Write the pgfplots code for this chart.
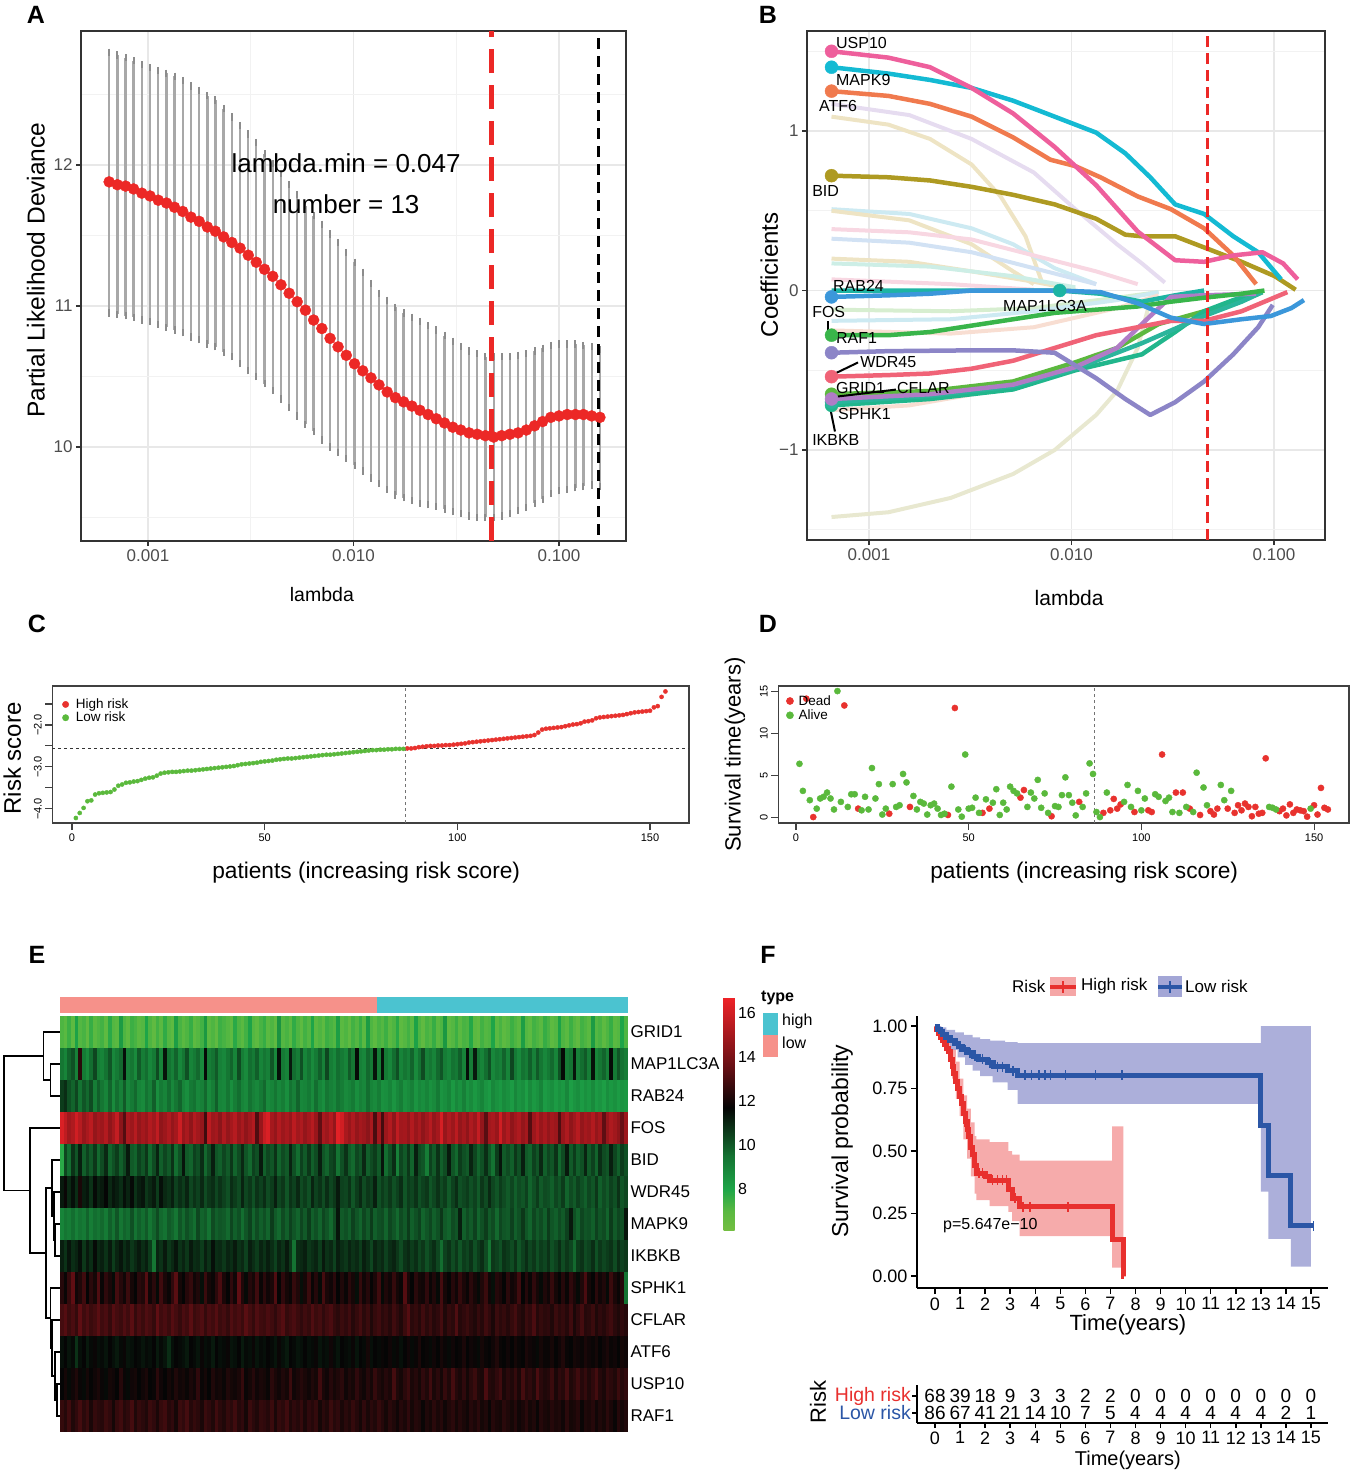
\documentclass[border=0pt]{standalone}
\usepackage{fontspec}
\setmainfont{Liberation Sans}
\usepackage{pgfplots}
\usepackage{pgfplotstable}
\pgfplotsset{compat=1.18}

\definecolor{gridmaj}{RGB}{232,232,232}
\definecolor{gridmin}{RGB}{242,242,242}
\definecolor{frame}{RGB}{51,51,51}
\definecolor{ticktxt}{RGB}{77,77,77}
\definecolor{cvred}{RGB}{236,40,38}
\definecolor{errgray}{RGB}{168,168,168}
\definecolor{capgray}{RGB}{140,140,140}
\definecolor{cUSP}{RGB}{238,95,156}
\definecolor{cMAPK}{RGB}{20,186,211}
\definecolor{cATF}{RGB}{240,122,78}
\definecolor{cBID}{RGB}{174,154,34}
\definecolor{cRAB}{RGB}{59,151,218}
\definecolor{cMAP1}{RGB}{29,180,163}
\definecolor{cGRN}{RGB}{57,181,74}
\definecolor{cWDR}{RGB}{240,99,119}
\definecolor{cPUR}{RGB}{140,133,199}
\definecolor{cGRN2}{RGB}{92,184,63}
\definecolor{cTEAL2}{RGB}{33,182,140}
\definecolor{cVIO}{RGB}{176,124,198}
\definecolor{cTEAL3}{RGB}{43,181,156}
\definecolor{fBeige}{RGB}{238,228,196}
\definecolor{fLav}{RGB}{230,220,240}
\definecolor{fCyan}{RGB}{205,234,242}
\definecolor{fPink}{RGB}{248,215,226}
\definecolor{fBlue}{RGB}{210,226,244}
\definecolor{fTeal}{RGB}{205,238,230}
\definecolor{fGreen}{RGB}{215,238,208}
\definecolor{fPeach}{RGB}{248,222,210}
\definecolor{fOlive}{RGB}{232,232,208}
\definecolor{rgreen}{RGB}{90,185,60}
\definecolor{rred}{RGB}{232,50,46}
\definecolor{typepink}{RGB}{246,145,138}
\definecolor{typecyan}{RGB}{75,195,208}
\definecolor{kmred}{RGB}{232,48,46}
\definecolor{kmblue}{RGB}{43,86,166}
\definecolor{bandred}{RGB}{245,166,166}
\definecolor{bandblue}{RGB}{163,166,214}

\pgfplotsset{
  /pgf/number format/assume math mode=true,
  ggbw/.style={scale only axis, grid=both,
    major grid style={line width=1.6pt, color=gridmaj},
    minor grid style={line width=0.9pt, color=gridmin},
    axis line style={line width=1.3pt, color=frame},
    tick align=outside, major tick length=5pt, minor tick length=0pt,
    tick style={line width=1.2pt, color=frame},
    ticklabel style={font=\fontsize{17}{20}\selectfont, text=ticktxt},
    xtick pos=bottom, ytick pos=left},
  rbase/.style={scale only axis,
    axis line style={line width=1.4pt, color=black!75},
    tick align=outside, major tick length=7pt,
    tick style={line width=1.1pt, color=black!75},
    ticklabel style={font=\fontsize{11}{13}\selectfont},
    yticklabel style={rotate=90, anchor=south},
    xtick pos=bottom, ytick pos=left},
  coef/.style={line width=4.5pt, line join=round},
  faint/.style={line width=4pt, line join=round},
  hrow/.style={scatter, only marks, mark=|, mark size=16pt, point meta=explicit,
    scatter/use mapped color={draw=mapped color, fill=mapped color},
    mark options={line width=3.95pt}},
}

% cross-validation curve: log10(lambda), mean, lower, upper
\pgfplotstableread{
x m lo hi
-3.189 11.88 10.95 12.80
-3.149 11.86 10.94 12.78
-3.109 11.85 10.93 12.76
-3.070 11.83 10.92 12.74
-3.030 11.80 10.90 12.71
-2.990 11.78 10.89 12.69
-2.950 11.75 10.87 12.67
-2.910 11.73 10.85 12.65
-2.871 11.70 10.83 12.63
-2.831 11.67 10.81 12.60
-2.791 11.63 10.78 12.56
-2.751 11.60 10.76 12.53
-2.711 11.56 10.73 12.49
-2.672 11.53 10.71 12.46
-2.632 11.49 10.67 12.40
-2.592 11.45 10.64 12.34
-2.552 11.41 10.59 12.28
-2.512 11.36 10.54 12.22
-2.473 11.31 10.50 12.16
-2.433 11.26 10.45 12.08
-2.393 11.21 10.40 12.01
-2.353 11.15 10.34 11.94
-2.313 11.09 10.28 11.86
-2.274 11.03 10.22 11.79
-2.234 10.97 10.16 11.71
-2.194 10.90 10.11 11.64
-2.154 10.84 10.05 11.58
-2.114 10.77 10.00 11.51
-2.075 10.71 9.96 11.45
-2.035 10.65 9.92 11.38
-1.995 10.59 9.87 11.31
-1.955 10.54 9.83 11.24
-1.915 10.49 9.78 11.16
-1.876 10.44 9.74 11.09
-1.836 10.39 9.70 11.04
-1.796 10.35 9.66 10.99
-1.756 10.32 9.64 10.95
-1.716 10.29 9.62 10.92
-1.677 10.26 9.60 10.89
-1.637 10.23 9.59 10.86
-1.597 10.20 9.58 10.83
-1.557 10.17 9.56 10.79
-1.517 10.14 9.54 10.75
-1.478 10.12 9.53 10.71
-1.438 10.10 9.51 10.68
-1.398 10.09 9.50 10.66
-1.358 10.08 9.50 10.64
-1.318 10.07 9.50 10.64
-1.279 10.08 9.51 10.64
-1.239 10.09 9.53 10.64
-1.199 10.10 9.55 10.65
-1.159 10.12 9.57 10.66
-1.119 10.15 9.60 10.68
-1.080 10.18 9.63 10.70
-1.040 10.21 9.67 10.72
-1.000 10.22 9.69 10.73
-0.960 10.23 9.70 10.73
-0.920 10.23 9.71 10.73
-0.881 10.23 9.72 10.72
-0.841 10.22 9.73 10.71
-0.801 10.21 9.72 10.69
}\cvtab

% expression heatmap: one line per gene, 154 patients
\pgfplotstableread[header=false]{
GRID1 7.2 7.0 7.5 6.9 8.1 7.1 7.3 6.8 7.6 7.0 7.2 7.4 6.9 7.8 7.1 7.0 8.3 7.2 6.9 7.5 7.3 7.0 7.1 8.0 7.2 6.8 7.4 7.0 7.7 7.1 6.9 8.2 7.3 7.0 7.2 7.6 6.9 7.1 7.4 8.4 7.0 7.2 6.8 7.5 7.3 7.1 6.9 7.8 7.2 7.0 7.4 8.1 7.1 6.9 7.3 7.6 7.0 7.2 6.8 8.5 7.1 7.3 7.0 7.7 7.2 6.9 7.4 7.1 8.0 7.0 7.2 6.9 7.5 7.3 7.1 8.2 7.0 7.2 6.8 7.4 7.1 7.6 7.0 8.3 7.2 6.9 7.3 7.1 7.5 7.0 7.2 7.8 6.9 7.1 7.4 7.0 8.1 7.2 6.8 7.3 7.1 7.6 7.0 7.2 8.4 6.9 7.1 7.5 7.0 7.3 7.2 7.9 7.0 6.8 7.4 7.1 7.2 8.0 7.0 7.3 6.9 7.1 7.5 7.2 7.0 8.2 7.1 6.9 7.4 7.2 7.0 7.6 7.3 6.9 7.1 8.1 7.2 7.0 7.5 7.1 6.8 7.4 7.2 7.0 8.3 7.1 7.3 6.9 7.2 7.6 7.0 7.1 8.0 7.2
MAP1LC3A 9.4 9.0 9.8 10.2 9.1 12.4 9.3 8.8 9.6 10.4 9.2 9.0 9.5 10.1 8.9 9.3 9.7 11.5 9.1 9.4 8.8 10.0 9.2 9.6 8.9 9.3 10.3 9.0 11.4 9.5 9.1 9.8 8.9 9.4 10.2 9.0 9.3 9.7 8.8 11.6 9.2 9.5 10.0 9.1 8.9 9.4 9.8 9.0 10.3 9.2 8.8 9.6 9.3 9.9 9.0 9.4 9.1 10.1 8.9 11.5 9.3 9.0 11.3 9.6 9.2 10.2 9.0 9.5 8.8 9.3 9.9 9.1 10.4 9.2 8.9 9.6 9.3 9.0 10.0 9.4 11.6 9.1 8.9 9.7 9.3 11.4 9.2 11.5 9.3 8.9 9.6 10.2 9.0 9.4 9.1 9.8 8.8 9.5 10.3 9.1 9.4 9.0 9.7 10.1 9.2 8.9 9.5 9.3 9.9 9.0 11.5 9.2 11.3 9.4 9.0 9.6 10.2 8.9 9.3 9.1 9.8 9.0 10.4 9.3 8.8 9.5 9.2 9.9 9.1 10.0 9.4 8.9 9.3 9.7 9.0 10.2 11.6 9.2 9.5 11.4 9.1 9.6 10.0 9.2 11.5 9.0 9.4 9.8 9.1 11.6 9.3 10.1 9.5 9.2
RAB24 10.6 10.9 10.2 9.8 10.4 9.5 10.1 9.7 10.3 9.2 9.9 9.4 9.0 9.8 8.8 9.6 9.1 10.0 8.9 9.3 9.7 9.0 8.8 9.5 9.1 9.9 8.7 9.3 9.0 9.6 8.9 9.4 9.8 9.0 8.7 9.3 9.5 8.9 9.1 9.7 8.8 9.2 9.9 9.0 8.9 9.4 8.7 9.2 9.6 9.0 8.8 9.5 9.1 8.9 9.3 9.7 8.8 9.0 9.4 8.9 9.2 8.7 9.5 9.1 9.8 8.9 9.0 9.3 8.8 9.6 9.0 8.7 9.4 9.1 8.9 9.5 9.2 8.8 9.0 9.3 8.7 9.1 8.9 9.6 9.0 8.8 9.2 8.6 8.7 9.0 8.5 8.9 9.2 8.6 8.8 9.1 8.5 8.9 8.7 9.0 8.6 8.8 9.3 8.5 8.7 9.0 8.4 8.9 8.6 9.1 8.5 8.8 8.4 8.7 9.0 8.5 8.3 8.9 8.6 8.4 8.8 8.6 8.3 8.9 8.5 8.7 8.2 8.8 8.4 8.6 9.0 8.3 8.5 8.7 8.3 8.6 8.4 8.9 8.2 8.5 8.7 8.3 8.6 8.4 8.8 8.3 8.5 8.2 8.7 8.4 8.6 8.3 8.5 8.4
FOS 16.2 15.6 14.9 15.2 16.0 15.4 14.7 15.1 15.5 14.6 15.0 14.8 15.3 14.5 15.0 15.7 14.4 13.2 15.1 14.8 15.4 14.6 15.0 14.7 15.3 14.9 15.6 14.5 14.8 15.2 14.6 15.0 15.9 14.7 15.1 14.5 15.3 14.9 14.6 12.8 15.5 14.8 15.0 14.4 15.2 14.6 15.0 15.4 14.7 15.1 14.5 14.9 15.3 13.1 14.7 15.8 16.2 15.0 14.6 15.3 14.8 15.1 14.7 15.5 14.9 15.2 14.6 15.0 15.4 14.7 13.4 15.1 14.8 15.3 14.6 16.4 16.0 15.1 14.7 15.2 14.6 15.0 14.8 14.4 15.1 13.0 14.9 12.9 14.8 15.3 14.5 15.6 14.9 15.0 14.6 15.3 14.7 15.1 14.5 14.9 15.4 14.6 15.0 16.1 14.7 15.2 14.8 15.5 14.6 15.0 14.5 15.2 14.8 15.7 14.6 13.3 14.9 15.1 14.7 16.0 14.8 15.3 14.5 14.9 15.2 14.6 15.0 13.2 14.8 15.3 14.7 15.1 14.6 15.0 14.8 13.1 14.7 15.2 14.5 14.9 15.4 14.6 15.0 14.8 15.3 14.6 15.0 13.4 14.7 15.2 14.9 14.5 13.6 14.8
BID 7.8 10.4 9.6 10.8 10.1 11.2 9.9 10.5 10.0 10.7 9.7 10.3 11.0 9.8 10.2 10.6 9.9 10.4 11.3 10.0 9.8 10.5 10.1 10.7 9.7 10.3 11.1 9.9 10.4 10.0 10.8 9.6 10.2 11.4 10.0 9.8 10.5 10.2 10.9 9.7 10.3 11.2 10.1 9.9 10.4 10.0 10.7 9.8 10.3 11.0 10.1 9.7 10.5 10.2 11.3 9.9 10.4 10.1 10.8 9.8 10.3 10.0 11.1 10.2 9.6 10.5 10.0 10.7 9.9 10.3 11.2 10.1 9.8 10.4 10.6 9.5 10.2 10.8 10.0 9.7 10.4 10.1 11.0 9.9 10.3 10.6 10.0 11.4 9.6 10.2 10.9 9.1 10.4 10.0 10.7 9.8 11.2 10.3 10.1 9.2 10.5 10.0 10.8 9.9 10.3 11.3 10.1 9.7 10.6 10.2 10.0 11.1 10.4 9.8 10.2 10.9 10.1 9.5 10.6 11.4 10.0 10.3 9.9 10.7 10.2 11.2 10.0 9.8 10.5 10.1 11.0 9.9 10.4 10.1 10.8 9.7 10.3 11.3 10.0 10.6 9.9 10.2 11.1 10.0 10.5 9.8 10.9 10.3 10.1 11.2 10.4 9.9 10.6 10.2
WDR45 11.3 11.8 11.0 11.5 10.9 12.1 11.2 11.4 10.8 11.6 11.1 11.3 11.7 11.0 11.4 11.2 10.9 11.5 11.1 11.6 10.8 11.2 11.4 10.7 11.0 11.3 10.6 11.5 11.0 10.8 11.2 10.5 10.9 10.6 11.1 10.4 10.8 10.5 11.0 10.3 10.7 10.9 10.4 10.8 10.5 10.2 10.9 10.6 10.3 11.1 10.4 10.7 10.2 10.8 10.5 10.9 10.3 10.6 11.2 10.4 10.7 10.1 10.8 10.5 11.0 10.3 10.6 10.2 11.1 10.5 10.8 10.3 10.9 10.4 10.7 11.3 10.5 10.4 10.8 10.1 10.6 11.0 10.3 10.7 10.5 11.2 10.2 10.6 10.3 10.7 10.2 10.5 10.9 10.1 10.6 10.4 10.8 10.2 10.5 10.7 10.1 10.4 10.8 10.3 10.6 10.0 10.5 10.9 10.2 10.4 10.6 10.2 10.5 10.0 10.7 10.3 11.0 10.4 10.1 10.6 10.3 10.0 10.4 9.9 10.3 10.1 10.5 9.8 10.2 10.6 10.0 10.3 10.2 9.9 10.4 10.1 10.6 9.8 10.3 10.0 10.5 10.2 9.9 10.4 10.1 10.7 9.9 10.3 10.0 10.5 10.2 10.8 10.1 10.4
MAPK9 9.0 9.4 9.2 9.6 9.1 9.5 9.3 9.8 9.2 9.6 9.4 9.7 9.3 9.9 9.5 10.1 9.4 9.8 9.6 10.2 9.5 9.9 9.6 10.0 9.4 9.8 10.3 9.7 9.5 10.0 9.8 9.4 10.1 9.7 10.2 9.9 9.6 10.4 9.8 10.0 9.5 10.3 9.9 10.1 10.0 9.7 10.4 9.9 10.2 9.6 10.1 10.5 9.8 10.3 9.9 10.2 9.8 10.6 10.0 9.7 10.3 9.9 10.5 10.1 9.8 10.4 10.0 10.6 9.9 10.2 9.8 10.4 10.1 9.7 10.3 11.4 10.0 10.2 9.9 10.5 10.1 9.8 10.4 10.0 10.6 9.9 10.2 10.3 9.8 10.4 10.1 9.7 10.3 10.0 10.6 9.9 10.2 10.5 9.8 10.1 10.4 9.9 10.2 10.7 10.0 9.8 10.3 10.1 11.2 9.9 10.3 10.0 10.5 9.8 10.2 10.6 10.0 10.3 9.7 10.4 10.1 10.0 10.5 9.9 10.2 10.7 10.1 9.8 10.4 10.0 10.3 9.9 10.6 10.1 9.9 10.3 10.0 10.5 11.3 10.2 9.8 10.4 10.1 10.2 9.9 10.5 10.1 10.3 9.8 10.6 10.0 10.4 10.2 11.4
IKBKB 11.2 10.8 11.4 10.9 11.1 11.5 10.7 11.3 10.9 11.6 11.0 11.2 10.8 11.3 10.6 11.1 11.4 10.9 11.2 10.7 11.0 11.3 10.9 11.2 10.6 9.4 11.1 10.8 11.3 10.7 11.0 11.4 10.8 11.1 10.7 11.3 10.9 11.0 10.6 11.2 10.8 11.5 10.9 11.0 10.7 11.1 10.9 11.3 10.8 11.0 10.5 11.2 10.9 10.6 11.1 10.8 11.2 10.9 10.5 11.1 10.8 11.3 10.7 9.5 10.9 11.0 11.2 10.7 10.9 11.1 10.6 11.3 10.8 11.0 10.5 11.2 10.9 10.7 11.1 10.8 11.0 10.6 11.2 10.9 10.4 11.1 10.8 11.0 10.5 10.9 11.1 10.7 10.3 10.8 11.0 10.6 10.9 10.4 10.7 10.2 10.6 10.9 10.4 9.6 10.5 10.8 10.3 10.7 10.1 10.6 10.4 10.8 10.2 10.6 10.9 10.3 9.4 10.7 10.5 10.2 10.8 10.6 10.3 10.8 10.1 10.5 10.9 10.4 10.7 10.2 10.6 10.4 10.8 10.2 10.5 10.9 10.3 10.7 10.4 9.7 10.6 10.8 10.3 10.5 10.9 10.2 10.7 10.4 10.6 10.8 10.3 10.9 10.5 10.7
SPHK1 12.3 11.8 12.6 13.4 11.9 12.2 12.8 11.7 12.4 12.0 13.1 11.8 12.5 12.1 11.6 12.9 12.3 11.9 12.7 12.0 11.7 12.4 12.2 13.2 11.9 12.4 11.6 12.8 12.1 11.8 12.5 13.3 12.0 11.7 12.3 12.6 11.9 12.2 11.5 12.7 12.0 11.8 12.4 13.0 12.1 11.7 12.5 11.9 13.4 12.2 11.6 12.3 12.0 12.8 11.8 12.4 11.9 12.1 13.1 11.7 12.5 12.0 11.8 12.6 12.2 11.5 12.0 12.7 11.8 12.3 11.6 12.9 12.1 11.9 12.4 11.7 12.2 11.8 12.4 12.0 11.5 12.6 11.9 12.3 11.7 12.1 12.8 11.6 12.2 11.9 12.6 12.0 11.8 13.2 12.1 11.7 12.4 12.0 11.9 12.5 11.8 12.2 11.6 12.9 12.0 11.7 12.3 11.9 12.6 12.1 11.8 12.4 12.0 11.6 12.2 12.7 11.9 11.5 12.3 12.1 11.7 12.4 11.9 12.1 12.8 11.7 12.3 11.8 12.5 12.0 11.6 12.2 11.9 12.6 12.0 11.7 12.3 11.8 12.5 12.1 11.6 12.2 13.0 12.0 11.7 12.4 11.9 12.2 11.6 12.7 12.1 11.8 12.3 9.5
CFLAR 12.9 13.2 12.7 13.0 12.6 13.4 12.8 13.1 12.7 12.9 13.3 12.8 13.0 12.6 13.2 12.9 12.7 13.1 12.8 13.3 12.6 13.0 12.7 13.1 12.9 12.6 13.4 12.8 13.0 12.7 13.2 12.9 12.6 13.0 12.8 13.3 12.7 12.9 13.1 12.6 13.0 12.8 13.2 12.7 12.9 12.6 13.1 12.8 13.0 12.7 13.3 12.9 12.6 13.1 12.8 12.7 13.0 12.8 12.5 12.9 13.2 12.6 12.8 13.0 12.7 12.5 12.8 12.6 13.1 12.7 12.9 12.5 12.8 13.0 12.6 12.4 12.7 12.5 12.8 12.3 12.6 12.9 12.4 12.7 12.2 12.6 12.8 12.4 12.6 12.3 12.8 12.5 12.2 12.7 13.2 12.4 12.6 12.3 12.8 12.4 12.7 12.3 12.5 12.9 12.2 12.6 12.4 13.1 12.3 12.5 12.7 12.4 12.2 12.6 12.3 12.8 12.5 12.1 12.7 12.4 12.6 12.3 12.6 12.9 12.4 12.2 12.7 12.5 13.0 12.3 12.6 12.4 12.5 12.2 12.7 12.4 12.6 12.3 12.8 12.1 12.5 12.9 12.3 12.4 12.7 12.2 12.5 12.3 12.6 12.8 12.4 12.2 12.5 12.3
ATF6 11.5 11.7 11.4 11.6 10.8 11.5 11.7 11.3 11.6 11.8 11.5 11.6 11.4 11.7 11.5 11.3 11.6 11.8 11.4 11.5 11.7 11.6 11.4 11.6 11.5 11.7 11.3 11.6 11.4 10.9 11.5 11.7 11.6 11.5 11.3 11.7 11.6 11.4 11.8 11.5 11.6 11.3 11.7 11.5 11.6 11.8 11.4 11.5 11.7 11.3 11.6 11.5 11.8 11.4 11.6 11.5 11.7 11.6 11.4 11.8 11.5 11.3 11.7 11.6 11.4 11.5 11.7 11.5 11.6 11.8 11.4 11.6 11.5 11.9 11.6 11.4 11.7 11.6 11.5 11.8 11.4 11.7 11.6 12.0 11.5 11.7 11.6 11.8 11.7 11.9 11.6 11.8 11.5 11.7 11.9 11.6 11.8 12.1 11.7 11.8 11.6 11.9 11.7 12.0 11.8 11.6 11.9 11.7 11.8 12.1 11.7 11.9 11.8 11.6 12.0 11.8 11.7 11.9 12.2 11.8 11.7 11.9 11.7 12.0 11.8 11.7 12.1 11.9 11.8 11.6 12.0 11.8 11.8 12.0 11.7 11.9 12.2 11.8 11.7 12.0 11.9 11.8 12.1 11.9 11.8 12.0 11.7 11.9 12.1 11.8 11.9 11.7 12.0 11.9
USP10 11.7 12.0 11.6 11.9 12.2 11.8 11.6 12.0 11.7 11.9 12.1 11.8 11.6 12.0 11.9 11.7 12.3 11.8 11.6 11.9 12.0 11.7 11.9 12.1 11.7 11.8 12.4 11.9 11.7 12.0 11.8 12.2 11.9 12.0 11.8 12.1 11.9 12.5 11.8 12.0 11.7 12.2 11.9 12.0 11.8 12.2 12.0 11.9 12.1 12.6 11.8 12.0 12.3 11.9 12.1 12.0 11.8 12.4 12.1 11.9 12.2 12.0 12.7 11.9 12.1 12.3 12.1 11.9 12.2 12.0 12.8 12.1 11.9 12.3 12.0 12.2 12.4 11.9 12.2 12.0 12.5 12.1 11.9 12.3 12.0 12.6 12.2 12.0 12.3 12.1 12.9 12.2 12.0 12.4 12.7 12.1 12.3 12.0 12.5 12.2 12.8 12.1 12.4 12.0 12.6 12.2 12.9 12.3 12.1 12.5 12.0 12.4 12.7 12.2 12.1 13.0 12.3 12.2 12.5 12.8 12.1 12.4 12.2 12.6 12.1 12.9 12.3 12.5 12.2 13.0 12.4 12.2 12.3 12.7 12.1 12.5 12.3 12.9 12.2 12.4 12.8 12.3 12.6 12.2 12.5 12.9 12.3 12.1 12.6 12.4 12.2 12.7 12.3 12.5
RAF1 12.6 12.3 12.8 12.2 12.5 12.9 12.4 12.7 12.1 12.6 12.4 12.3 12.7 12.5 12.0 12.6 12.8 12.3 12.5 12.9 12.2 12.6 12.4 12.2 12.7 12.5 12.1 12.6 12.8 12.3 12.5 12.0 12.7 12.5 12.9 12.3 12.6 12.4 12.1 12.7 12.5 12.2 12.8 12.4 12.2 12.6 12.4 12.8 12.3 12.5 12.0 12.7 12.4 12.2 12.6 12.5 12.3 12.7 12.1 12.6 12.4 12.8 12.2 12.5 12.3 12.6 12.1 12.5 12.3 12.6 12.0 12.4 12.2 12.7 12.3 12.5 12.1 12.4 12.2 12.6 12.3 12.0 12.5 12.1 12.4 12.2 12.6 12.3 12.0 12.4 12.2 11.9 12.3 12.1 12.5 12.0 12.3 12.2 11.8 12.2 12.0 12.4 12.1 12.3 11.9 12.2 12.4 12.0 12.3 12.1 11.9 12.3 12.1 12.4 12.0 12.2 11.8 12.3 12.1 12.0 12.4 12.2 12.0 12.3 11.9 12.1 12.4 12.0 12.2 11.8 12.3 12.1 12.0 12.3 12.1 12.2 11.9 12.4 12.0 12.1 12.3 11.8 12.2 12.1 12.3 11.9 12.2 12.0 12.4 12.1 11.8 12.3 12.0 12.2
}\heatraw
\pgfplotstabletranspose[colnames from=0]{\heat}{\heatraw}

% numbers at risk
\pgfplotstableread{
t hi lo
0 68 86
1 39 67
2 18 41
3 9 21
4 3 14
5 3 10
6 2 7
7 2 5
8 0 4
9 0 4
10 0 4
11 0 4
12 0 4
13 0 4
14 0 2
15 0 1
}\risktab

\begin{document}
\begin{tikzpicture}
\path[use as bounding box] (0pt,0pt) rectangle (1350pt,-1473pt);

\foreach \lab/\lx/\ly in {A/36/15,B/768/15,C/37/624,D/768/624,E/37/955,F/768/955}
  \node[font=\bfseries\fontsize{25}{28}\selectfont] at (\lx pt,-\ly pt) {\lab};

%% ---------- A: cross-validation ----------
\begin{axis}[ggbw, at={(81pt,-31pt)}, anchor=north west, width=545pt, height=510pt,
  xmin=-3.326, xmax=-0.674, ymin=9.333, ymax=12.95,
  xtick={-3,-2,-1}, xticklabels={0.001,0.010,0.100}, minor xtick={-2.5,-1.5},
  ytick={10,11,12}, yticklabels={10,11,12}, minor ytick={9.5,10.5,11.5,12.5},
  xlabel={lambda}, ylabel={Partial Likelihood Deviance},
  xlabel style={at={(axis description cs:0.442,0)}, anchor=center, yshift=-54pt, font=\fontsize{19.5}{22}\selectfont},
  ylabel style={at={(axis description cs:-0.083,0.531)}, anchor=center, font=\fontsize{24.5}{27}\selectfont}]
\addplot[draw=none, mark=none, forget plot,
  error bars/.cd, y dir=both, y explicit,
  error bar style={line width=2.3pt, draw=errgray, solid},
  error mark options={line width=2pt, draw=capgray, mark size=3.6pt}]
  table[x=x, y=m, y error plus expr=\thisrow{hi}-\thisrow{m}, y error minus expr=\thisrow{m}-\thisrow{lo}] {\cvtab};
\addplot[only marks, mark=*, mark size=5.5pt, color=cvred] table[x=x, y=m] {\cvtab};
\addplot[cvred, line width=5pt, dash pattern=on 24pt off 12pt] coordinates {(-1.328,9.333) (-1.328,12.95)};
\addplot[black, line width=3pt, dash pattern=on 11pt off 7pt] coordinates {(-0.810,12.90) (-0.810,9.333)};
\node[font=\fontsize{26}{28}\selectfont] at (axis cs:-2.036,12.01) {lambda.min = 0.047};
\node[font=\fontsize{26}{28}\selectfont] at (axis cs:-2.036,11.72) {number = 13};
\end{axis}

%% ---------- B: coefficient paths ----------
\begin{axis}[ggbw, at={(807pt,-31pt)}, anchor=north west, width=518pt, height=509pt,
  xmin=-3.306, xmax=-0.748, ymin=-1.564, ymax=1.627,
  xtick={-3,-2,-1}, xticklabels={0.001,0.010,0.100}, minor xtick={-2.5,-1.5},
  ytick={-1,0,1}, yticklabels={−1,0,1}, minor ytick={-1.5,-0.5,0.5,1.5},
  xlabel={lambda}, ylabel={Coefficients},
  xlabel style={at={(axis description cs:0.506,0)}, anchor=center, yshift=-58pt, font=\fontsize{21}{24}\selectfont},
  ylabel style={at={(axis description cs:-0.073,0.521)}, anchor=center, font=\fontsize{24}{27}\selectfont}]
% faint paths
\addplot[faint, fBeige] coordinates {(-3.185,1.09) (-2.904,1.04) (-2.698,0.95) (-2.493,0.79) (-2.350,0.59) (-2.227,0.34) (-2.145,0.05)};
\addplot[faint, fLav] coordinates {(-3.185,1.17) (-2.801,1.10) (-2.493,0.95) (-2.186,0.74) (-1.981,0.51) (-1.775,0.29) (-1.652,0.17) (-1.539,0.05)};
\addplot[faint, fCyan] coordinates {(-3.185,0.51) (-2.801,0.48) (-2.493,0.39) (-2.288,0.29) (-2.083,0.14) (-1.878,0.04)};
\addplot[faint, fBeige] coordinates {(-3.185,0.50) (-2.801,0.44) (-2.493,0.29) (-2.288,0.12) (-2.186,0.04)};
\addplot[faint, fPink] coordinates {(-3.185,0.385) (-2.801,0.365) (-2.493,0.32) (-2.186,0.22) (-1.878,0.12) (-1.673,0.04)};
\addplot[faint, fBlue] coordinates {(-3.185,0.325) (-2.801,0.30) (-2.493,0.24) (-2.186,0.14) (-1.878,0.04)};
\addplot[faint, fBeige] coordinates {(-3.185,0.20) (-2.801,0.18) (-2.493,0.12) (-2.186,0.055) (-1.981,0.005)};
\addplot[faint, fTeal] coordinates {(-3.185,0.17) (-2.698,0.15) (-2.288,0.09) (-1.981,0.02)};
\addplot[faint, fPink] coordinates {(-3.185,0.07) (-2.596,0.04) (-2.186,0.005)};
\addplot[faint, fGreen] coordinates {(-3.185,-0.12) (-2.596,-0.13) (-2.186,-0.11) (-1.775,-0.045) (-1.570,-0.01)};
\addplot[faint, fCyan] coordinates {(-3.185,-0.19) (-2.596,-0.18) (-2.186,-0.13) (-1.775,-0.06) (-1.570,-0.01)};
\addplot[faint, fPeach] coordinates {(-3.185,-0.25) (-2.596,-0.27) (-2.186,-0.23) (-1.775,-0.11) (-1.570,-0.03)};
\addplot[faint, fPeach] coordinates {(-3.185,-0.75) (-2.801,-0.72) (-2.391,-0.63) (-2.083,-0.52) (-1.878,-0.40)};
\addplot[faint, fOlive] coordinates {(-3.185,-1.42) (-2.904,-1.39) (-2.596,-1.30) (-2.288,-1.15) (-2.083,-1.00) (-1.878,-0.78) (-1.775,-0.63) (-1.673,-0.36) (-1.611,-0.06)};
% selected genes
\addplot[coef, cMAP1] coordinates {(-3.185,0) (-2.058,0) (-1.857,-0.02) (-1.652,-0.07) (-1.488,-0.03) (-1.345,0)};
\addplot[coef, cGRN2] coordinates {(-3.185,-0.65) (-2.698,-0.63) (-2.288,-0.57) (-1.981,-0.45) (-1.775,-0.36) (-1.570,-0.21) (-1.345,-0.13) (-1.160,-0.06) (-1.057,-0.01)};
\addplot[coef, cTEAL2] coordinates {(-3.185,-0.72) (-2.698,-0.68) (-2.288,-0.62) (-1.981,-0.50) (-1.652,-0.40) (-1.488,-0.26) (-1.345,-0.13) (-1.201,-0.06) (-1.078,-0.01)};
\addplot[coef, cTEAL3] coordinates {(-3.185,-0.70) (-2.698,-0.66) (-2.288,-0.60) (-1.981,-0.49) (-1.652,-0.33) (-1.345,-0.16) (-1.160,-0.07) (-1.057,-0.01)};
\addplot[coef, cVIO] coordinates {(-3.185,-0.68) (-2.698,-0.65) (-2.288,-0.59) (-1.981,-0.48) (-1.775,-0.36) (-1.611,-0.16) (-1.509,-0.04) (-1.345,-0.03) (-1.088,-0.02)};
\addplot[coef, cWDR] coordinates {(-3.185,-0.54) (-2.904,-0.53) (-2.698,-0.52) (-2.493,-0.49) (-2.288,-0.44) (-2.083,-0.36) (-1.878,-0.28) (-1.673,-0.23) (-1.509,-0.19) (-1.345,-0.19) (-1.160,-0.13) (-0.934,-0.01)};
\addplot[coef, cPUR] coordinates {(-3.185,-0.39) (-2.904,-0.38) (-2.493,-0.375) (-2.288,-0.375) (-2.083,-0.39) (-1.878,-0.55) (-1.734,-0.68) (-1.611,-0.78) (-1.488,-0.70) (-1.345,-0.57) (-1.201,-0.40) (-1.078,-0.23) (-1.006,-0.09)};
\addplot[coef, cGRN] coordinates {(-3.185,-0.28) (-2.904,-0.28) (-2.698,-0.26) (-2.493,-0.22) (-2.288,-0.18) (-2.083,-0.14) (-1.878,-0.12) (-1.673,-0.10) (-1.509,-0.07) (-1.345,-0.045) (-1.160,-0.02) (-1.047,0)};
\addplot[coef, cRAB] coordinates {(-3.185,-0.04) (-2.904,-0.03) (-2.698,-0.02) (-2.493,0) (-2.288,0) (-2.063,0) (-1.857,-0.01) (-1.673,-0.08) (-1.509,-0.17) (-1.345,-0.21) (-1.160,-0.18) (-1.016,-0.16) (-0.914,-0.11) (-0.852,-0.06)};
\addplot[coef, cBID] coordinates {(-3.185,0.72) (-2.904,0.71) (-2.698,0.69) (-2.493,0.65) (-2.288,0.60) (-2.083,0.54) (-1.878,0.45) (-1.734,0.35) (-1.652,0.34) (-1.488,0.34) (-1.345,0.27) (-1.160,0.18) (-0.996,0.09) (-0.893,0.005)};
\addplot[coef, cATF] coordinates {(-3.185,1.25) (-2.904,1.22) (-2.698,1.17) (-2.493,1.09) (-2.288,0.96) (-2.104,0.82) (-1.981,0.78) (-1.857,0.71) (-1.673,0.59) (-1.509,0.51) (-1.345,0.39) (-1.201,0.22) (-1.088,0.04)};
\addplot[coef, cMAPK] coordinates {(-3.185,1.40) (-2.904,1.36) (-2.698,1.32) (-2.493,1.27) (-2.288,1.19) (-2.083,1.09) (-1.878,0.99) (-1.734,0.86) (-1.611,0.71) (-1.488,0.54) (-1.345,0.48) (-1.201,0.34) (-1.078,0.24) (-0.965,0.07)};
\addplot[coef, cUSP] coordinates {(-3.185,1.50) (-2.904,1.46) (-2.698,1.40) (-2.493,1.27) (-2.288,1.11) (-2.083,0.90) (-1.878,0.66) (-1.673,0.37) (-1.488,0.19) (-1.345,0.18) (-1.201,0.22) (-1.057,0.24) (-0.955,0.17) (-0.883,0.07)};
% start points
\addplot[only marks, mark=*, mark size=6.5pt, cUSP] coordinates {(-3.185,1.50)};
\addplot[only marks, mark=*, mark size=6.5pt, cMAPK] coordinates {(-3.185,1.40)};
\addplot[only marks, mark=*, mark size=6.5pt, cATF] coordinates {(-3.185,1.25)};
\addplot[only marks, mark=*, mark size=6.5pt, cBID] coordinates {(-3.185,0.72)};
\addplot[only marks, mark=*, mark size=6.5pt, cRAB] coordinates {(-3.185,-0.04)};
\addplot[only marks, mark=*, mark size=6.5pt, cMAP1] coordinates {(-2.058,0)};
\addplot[only marks, mark=*, mark size=6.5pt, cGRN] coordinates {(-3.185,-0.28)};
\addplot[only marks, mark=*, mark size=6.5pt, cPUR] coordinates {(-3.185,-0.39)};
\addplot[only marks, mark=*, mark size=6.5pt, cWDR] coordinates {(-3.185,-0.54)};
\addplot[only marks, mark=*, mark size=6.5pt, cGRN2] coordinates {(-3.185,-0.65)};
\addplot[only marks, mark=*, mark size=6.5pt, cTEAL2] coordinates {(-3.185,-0.72)};
\addplot[only marks, mark=*, mark size=6.5pt, cTEAL3] coordinates {(-3.185,-0.70)};
\addplot[only marks, mark=*, mark size=6.5pt, cVIO] coordinates {(-3.185,-0.68)};
\addplot[cvred, line width=2.6pt, dash pattern=on 11pt off 6pt] coordinates {(-1.328,-1.564) (-1.328,1.627)};
% gene labels
\begin{scope}[every node/.style={font=\fontsize{16}{18}\selectfont, anchor=west, inner sep=0pt}]
\node at (axis cs:-3.163,1.549) {USP10};
\node at (axis cs:-3.163,1.323) {MAPK9};
\node at (axis cs:-3.247,1.160) {ATF6};
\node at (axis cs:-3.281,0.627) {BID};
\node at (axis cs:-3.178,0.031) {RAB24};
\node at (axis cs:-2.338,-0.094) {MAP1LC3A};
\node at (axis cs:-3.281,-0.132) {FOS};
\node at (axis cs:-3.163,-0.295) {RAF1};
\node at (axis cs:-3.044,-0.451) {WDR45};
\node at (axis cs:-3.163,-0.614) {GRID1};
\node at (axis cs:-2.862,-0.614) {CFLAR};
\node at (axis cs:-3.153,-0.777) {SPHK1};
\node at (axis cs:-3.281,-0.940) {IKBKB};
\end{scope}
\draw[black, line width=2pt] (axis cs:-3.202,-0.194) -- (axis cs:-3.202,-0.290);
\draw[black, line width=2pt] (axis cs:-3.198,-0.539) -- (axis cs:-3.054,-0.451);
\draw[black, line width=2pt] (axis cs:-3.198,-0.671) -- (axis cs:-2.867,-0.621);
\draw[black, line width=2pt] (axis cs:-3.198,-0.696) -- (axis cs:-3.168,-0.884);
\end{axis}

%% ---------- C: risk score ----------
\begin{axis}[rbase, at={(52.3pt,-686pt)}, anchor=north west, width=636.7pt, height=137pt,
  xmin=-5.12, xmax=160.12, ymin=-4.34, ymax=-1.07,
  xtick={0,50,100,150}, ytick={-4,-3.5,-3,-2.5,-2,-1.5}, yticklabels={−4.0,,−3.0,,−2.0,},
  xlabel={patients (increasing risk score)}, ylabel={Risk score},
  xlabel style={at={(axis description cs:0.493,0)}, anchor=center, yshift=-50pt, font=\fontsize{22.7}{25}\selectfont},
  ylabel style={at={(axis description cs:-0.063,0.47)}, anchor=center, font=\fontsize{24}{27}\selectfont},
  legend style={at={(axis description cs:0.014,0.93)}, anchor=north west, draw=none, fill=none,
    font=\fontsize{13.5}{15}\selectfont, row sep=-2pt, inner sep=1pt},
  legend cell align=left, legend image post style={mark size=3.2pt}]
\addplot[only marks, mark=*, mark size=2.1pt, rred] coordinates {
(87,-2.56) (88,-2.56) (89,-2.55) (90,-2.53) (91,-2.52) (92,-2.51) (93,-2.50) (94,-2.50) (95,-2.49) (96,-2.49)
(97,-2.48) (98,-2.48) (99,-2.47) (100,-2.46) (101,-2.45) (102,-2.44) (103,-2.42) (104,-2.41) (105,-2.40) (106,-2.39)
(107,-2.38) (108,-2.37) (109,-2.36) (110,-2.35) (111,-2.34) (112,-2.33) (113,-2.32) (114,-2.31) (115,-2.30) (116,-2.29)
(117,-2.28) (118,-2.27) (119,-2.26) (120,-2.24) (121,-2.18) (122,-2.11) (123,-2.09) (124,-2.08) (125,-2.07) (126,-2.06)
(127,-2.05) (128,-2.03) (129,-2.01) (130,-1.99) (131,-1.98) (132,-1.96) (133,-1.92) (134,-1.91) (135,-1.89) (136,-1.84)
(137,-1.82) (138,-1.81) (139,-1.80) (140,-1.79) (141,-1.78) (142,-1.77) (143,-1.76) (144,-1.74) (145,-1.72) (146,-1.70)
(147,-1.69) (148,-1.68) (149,-1.67) (150,-1.66) (151,-1.58) (152,-1.55) (153,-1.33) (154,-1.20)};
\addlegendentry{\hspace{5pt}High risk}
\addplot[only marks, mark=*, mark size=2.1pt, rgreen] coordinates {
(1,-4.22) (2,-4.10) (3,-3.98) (4,-3.82) (5,-3.80) (6,-3.66) (7,-3.63) (8,-3.62) (9,-3.61) (10,-3.60)
(11,-3.54) (12,-3.45) (13,-3.42) (14,-3.38) (15,-3.37) (16,-3.35) (17,-3.34) (18,-3.31) (19,-3.28) (20,-3.26)
(21,-3.25) (22,-3.21) (23,-3.16) (24,-3.14) (25,-3.13) (26,-3.12) (27,-3.12) (28,-3.11) (29,-3.10) (30,-3.09)
(31,-3.09) (32,-3.08) (33,-3.07) (34,-3.06) (35,-3.05) (36,-3.04) (37,-3.03) (38,-3.02) (39,-3.01) (40,-3.00)
(41,-2.99) (42,-2.98) (43,-2.96) (44,-2.94) (45,-2.93) (46,-2.92) (47,-2.91) (48,-2.90) (49,-2.88) (50,-2.87)
(51,-2.86) (52,-2.85) (53,-2.83) (54,-2.82) (55,-2.81) (56,-2.80) (57,-2.80) (58,-2.79) (59,-2.78) (60,-2.77)
(61,-2.76) (62,-2.75) (63,-2.74) (64,-2.73) (65,-2.72) (66,-2.71) (67,-2.71) (68,-2.70) (69,-2.69) (70,-2.68)
(71,-2.67) (72,-2.66) (73,-2.65) (74,-2.64) (75,-2.63) (76,-2.62) (77,-2.61) (78,-2.60) (79,-2.60) (80,-2.59)
(81,-2.59) (82,-2.58) (83,-2.58) (84,-2.57) (85,-2.57) (86,-2.57)};
\addlegendentry{\hspace{5pt}Low risk}
\addplot[forget plot, black!80, line width=1pt, dash pattern=on 3pt off 3pt] coordinates {(-5.12,-2.565) (160.12,-2.565)};
\addplot[forget plot, black!55, line width=1pt, dash pattern=on 3pt off 3pt] coordinates {(86.5,-4.34) (86.5,-1.07)};
\end{axis}

%% ---------- D: survival status ----------
\begin{axis}[rbase, at={(778.3pt,-686pt)}, anchor=north west, width=570.7pt, height=137pt,
  xmin=-5.12, xmax=160.12, ymin=-0.6, ymax=15.6,
  xtick={0,50,100,150}, ytick={0,5,10,15},
  xlabel={patients (increasing risk score)}, ylabel={Survival time(years)},
  xlabel style={at={(axis description cs:0.536,0)}, anchor=center, yshift=-50pt, font=\fontsize{22.7}{25}\selectfont},
  ylabel style={at={(axis description cs:-0.076,0.50)}, anchor=center, font=\fontsize{22}{25}\selectfont},
  legend style={at={(axis description cs:0.012,0.955)}, anchor=north west, draw=none, fill=none,
    font=\fontsize{13.5}{15}\selectfont, row sep=-1pt, inner sep=1pt},
  legend cell align=left, legend image post style={mark size=3.6pt}]
\addplot[only marks, mark=*, mark size=3.1pt, rred] coordinates {
(3,14.1) (5,0.1) (14,13.3) (18,1.1) (27,0.5) (33,1.3) (44,0.35) (46,13.0) (54,0.6) (56,1.1)
(65,2.4) (66,3.3) (74,0.2) (82,1.9) (89,0.6) (91,0.9) (92,2.25) (93,1.1) (94,1.6) (98,0.7)
(102,0.9) (103,0.7) (106,7.5) (110,3.0) (112,3.0) (114,1.1) (117,0.35) (120,0.8) (121,0.4) (122,1.1)
(125,1.1) (127,0.6) (128,1.5) (129,0.9) (130,1.7) (131,1.3) (132,0.2) (133,1.3) (134,0.5) (135,0.6)
(136,7.05) (140,0.8) (141,1.1) (142,0.3) (143,1.6) (144,0.6) (145,1.0) (146,0.9) (147,0.8) (148,0.15)
(150,1.5) (151,0.4) (152,3.55) (153,1.2) (154,1.0)};
\addlegendentry{\hspace{3pt}Dead}
\addplot[only marks, mark=*, mark size=3.1pt, rgreen] coordinates {
(1,6.4) (2,3.2) (4,2.1) (6,1.1) (7,2.3) (8,2.5) (9,3.0) (10,2.3) (11,1.0) (12,15.0)
(13,1.9) (15,1.3) (16,2.8) (17,2.8) (19,0.9) (20,2.5) (21,1.0) (22,5.9) (23,2.3) (24,4.0)
(25,0.4) (26,1.1) (28,4.0) (29,1.3) (30,1.5) (31,5.2) (32,4.2) (34,2.6) (35,1.0) (36,1.9)
(37,1.7) (38,0.4) (39,1.5) (40,1.7) (41,1.1) (42,0.35) (43,0.5) (45,3.7) (47,1.0) (48,0.15)
(49,7.5) (50,1.1) (51,1.2) (52,2.4) (53,0.6) (55,2.2) (57,1.8) (58,3.4) (59,0.35) (60,1.8)
(61,1.0) (62,3.7) (63,3.2) (64,2.9) (67,1.3) (68,3.0) (69,2.3) (70,4.5) (71,1.2) (72,2.9)
(73,0.6) (75,1.4) (76,1.3) (77,2.7) (78,4.8) (79,2.7) (80,1.8) (81,0.3) (83,1.3) (84,2.9)
(85,6.45) (86,5.2) (87,0.7) (88,0.1) (90,3.0) (95,1.9) (96,3.9) (97,1.3) (99,3.2) (100,0.9)
(101,2.3) (104,2.8) (105,2.5) (107,2.0) (108,2.4) (109,0.7) (111,0.6) (113,1.3) (115,0.7) (116,5.35)
(118,3.6) (119,1.5) (123,3.9) (124,2.1) (126,3.2) (137,1.3) (138,1.2) (139,1.0) (149,1.1)};
\addlegendentry{\hspace{3pt}Alive}
\addplot[forget plot, black!55, line width=1pt, dash pattern=on 3pt off 3pt] coordinates {(86.5,-0.6) (86.5,15.6)};
\end{axis}

%% ---------- E: heatmap ----------
\begin{axis}[scale only axis, at={(60pt,-1016pt)}, anchor=north west, width=568pt, height=416pt,
  xmin=0, xmax=154, ymin=0.5, ymax=13.5, y dir=reverse, clip=false,
  axis line style={draw=none}, xtick=\empty,
  ytick={0.16,1,2,3,4,5,6,7,8,9,10,11,12,13},
  yticklabels={\textbf{type},GRID1,MAP1LC3A,RAB24,FOS,BID,WDR45,MAPK9,IKBKB,SPHK1,CFLAR,ATF6,USP10,RAF1},
  yticklabel pos=right, major tick length=0pt,
  yticklabel style={font=\fontsize{17}{20}\selectfont, anchor=west, xshift=-1pt},
  colormap={heat}{rgb255(0cm)=(115,190,65) rgb255(0.86cm)=(90,185,65) rgb255(1.86cm)=(30,165,72)
    rgb255(3.36cm)=(20,115,50) rgb255(5.56cm)=(5,5,5) rgb255(7.36cm)=(100,15,20) rgb255(10.59cm)=(240,35,40)},
  point meta min=6.14, point meta max=16.73,
  colorbar,
  colorbar style={at={(parent axis.north west)}, anchor=north west, xshift=655pt, yshift=19pt,
    scale only axis, width=11pt, height=233pt, y dir=normal,
    ytick={8,10,12,14,16}, major tick length=0pt, axis line style={draw=none},
    yticklabel style={font=\fontsize{16}{18}\selectfont}}]
\addplot[fill=typepink, draw=none] coordinates {(0,-0.09) (86,-0.09) (86,0.41) (0,0.41)};
\addplot[fill=typecyan, draw=none] coordinates {(86,-0.09) (154,-0.09) (154,0.41) (86,0.41)};
\addplot[hrow] table[x expr=\coordindex+0.5, y expr=1, meta=GRID1] {\heat};
\addplot[hrow] table[x expr=\coordindex+0.5, y expr=2, meta=MAP1LC3A] {\heat};
\addplot[hrow] table[x expr=\coordindex+0.5, y expr=3, meta=RAB24] {\heat};
\addplot[hrow] table[x expr=\coordindex+0.5, y expr=4, meta=FOS] {\heat};
\addplot[hrow] table[x expr=\coordindex+0.5, y expr=5, meta=BID] {\heat};
\addplot[hrow] table[x expr=\coordindex+0.5, y expr=6, meta=WDR45] {\heat};
\addplot[hrow] table[x expr=\coordindex+0.5, y expr=7, meta=MAPK9] {\heat};
\addplot[hrow] table[x expr=\coordindex+0.5, y expr=8, meta=IKBKB] {\heat};
\addplot[hrow] table[x expr=\coordindex+0.5, y expr=9, meta=SPHK1] {\heat};
\addplot[hrow] table[x expr=\coordindex+0.5, y expr=10, meta=CFLAR] {\heat};
\addplot[hrow] table[x expr=\coordindex+0.5, y expr=11, meta=ATF6] {\heat};
\addplot[hrow] table[x expr=\coordindex+0.5, y expr=12, meta=USP10] {\heat};
\addplot[hrow] table[x expr=\coordindex+0.5, y expr=13, meta=RAF1] {\heat};
% row dendrogram
\pgfplotsset{dendro/.style={black, line width=1.8pt, line cap=rect}}
\addplot[dendro] coordinates {(0,2) (-2.6,2) (-2.6,3) (0,3)};
\addplot[dendro] coordinates {(0,1) (-4.5,1) (-4.5,2.5) (-2.6,2.5)};
\addplot[dendro] coordinates {(0,12) (-0.9,12) (-0.9,13) (0,13)};
\addplot[dendro] coordinates {(0,11) (-1.4,11) (-1.4,12.5) (-0.9,12.5)};
\addplot[dendro] coordinates {(0,10) (-2.1,10) (-2.1,11.75) (-1.4,11.75)};
\addplot[dendro] coordinates {(0,9) (-2.6,9) (-2.6,10.875) (-2.1,10.875)};
\addplot[dendro] coordinates {(0,7) (-1.3,7) (-1.3,8) (0,8)};
\addplot[dendro] coordinates {(0,6) (-1.6,6) (-1.6,7.5) (-1.3,7.5)};
\addplot[dendro] coordinates {(0,5) (-2.2,5) (-2.2,6.75) (-1.6,6.75)};
\addplot[dendro] coordinates {(-2.2,5.875) (-3.8,5.875) (-3.8,9.94) (-2.6,9.94)};
\addplot[dendro] coordinates {(0,4) (-8.1,4) (-8.1,7.91) (-3.8,7.91)};
\addplot[dendro] coordinates {(-4.5,1.75) (-15.2,1.75) (-15.2,5.95) (-8.1,5.95)};
\end{axis}
\node[font=\bfseries\fontsize{16}{18}\selectfont, anchor=west, inner sep=0pt] at (761pt,-998pt) {type};
\fill[typecyan] (763pt,-1013pt) rectangle (778pt,-1035pt);
\fill[typepink] (763pt,-1035pt) rectangle (778pt,-1057pt);
\node[font=\fontsize{16}{18}\selectfont, anchor=west, inner sep=0pt] at (782pt,-1021pt) {high};
\node[font=\fontsize{16}{18}\selectfont, anchor=west, inner sep=0pt] at (782pt,-1043pt) {low};

%% ---------- F: Kaplan-Meier ----------
\begin{axis}[scale only axis, at={(917pt,-1016pt)}, anchor=north west, width=411pt, height=272pt,
  xmin=-0.718, xmax=15.68, ymin=-0.048, ymax=1.04,
  axis x line*=bottom, axis y line*=left, axis line style={line width=1.6pt, black},
  tick align=outside, major tick length=6pt, tick style={line width=1.5pt, black},
  xtick={0,1,...,15}, ytick={0,0.25,0.5,0.75,1}, yticklabels={0.00,0.25,0.50,0.75,1.00},
  ticklabel style={font=\fontsize{18}{20}\selectfont},
  xlabel={Time(years)}, ylabel={Survival probability},
  xlabel style={at={(axis description cs:0.513,0)}, anchor=center, yshift=-37pt, font=\fontsize{22}{25}\selectfont},
  ylabel style={at={(axis description cs:-0.182,0.54)}, anchor=center, font=\fontsize{23}{26}\selectfont}]
% confidence bands (step polygons: upper limit forward, lower limit back)
\addplot[fill=bandred, fill opacity=0.95, draw=none] coordinates {(0,1) (0.23,1) (0.23,0.99) (0.38,0.99) (0.38,0.975) (0.53,0.975) (0.53,0.953) (0.68,0.953) (0.68,0.91) (0.83,0.91) (0.83,0.858) (0.98,0.858) (0.98,0.79) (1.13,0.79) (1.13,0.723) (1.28,0.723) (1.28,0.67) (1.43,0.67) (1.43,0.615) (1.58,0.615) (1.58,0.56) (1.65,0.56) (1.65,0.547) (2.18,0.547) (2.18,0.536) (2.93,0.536) (2.93,0.50) (3.08,0.50) (3.08,0.486) (3.38,0.486) (3.38,0.462) (7.07,0.462) (7.07,0.599) (7.52,0.599)
 (7.52,0.034) (7.07,0.034) (7.07,0.16) (3.38,0.16) (3.38,0.22) (3.08,0.22) (3.08,0.257) (2.93,0.257) (2.93,0.28) (2.18,0.28) (2.18,0.304) (1.65,0.304) (1.65,0.33) (1.58,0.33) (1.58,0.399) (1.43,0.399) (1.43,0.47) (1.28,0.47) (1.28,0.547) (1.13,0.547) (1.13,0.64) (0.98,0.64) (0.98,0.709) (0.83,0.709) (0.83,0.79) (0.68,0.79) (0.68,0.858) (0.53,0.858) (0.53,0.90) (0.38,0.90) (0.38,0.939) (0.23,0.939) (0.23,0.97) (0.075,0.97) (0.075,1) (0,1)};
\addplot[fill=bandblue, fill opacity=0.9, draw=none] coordinates {(0,1) (0.25,1) (0.25,0.995) (0.45,0.995) (0.45,0.985) (0.8,0.985) (0.8,0.975) (1.15,0.975) (1.15,0.965) (1.5,0.965) (1.5,0.955) (1.8,0.955) (1.8,0.948) (2.2,0.948) (2.2,0.942) (2.8,0.942) (2.8,0.936) (3.3,0.936) (3.3,0.932) (13.0,0.932) (13.0,1.0) (15.0,1.0)
 (15.0,0.038) (14.2,0.038) (14.2,0.149) (13.3,0.149) (13.3,0.338) (13.0,0.338) (13.0,0.689) (3.3,0.689) (3.3,0.745) (2.9,0.745) (2.9,0.775) (2.3,0.775) (2.3,0.80) (1.8,0.80) (1.8,0.822) (1.5,0.822) (1.5,0.845) (1.2,0.845) (1.2,0.875) (0.9,0.875) (0.9,0.905) (0.6,0.905) (0.6,0.94) (0.3,0.94) (0.3,0.965) (0.1,0.965) (0.1,1) (0,1)};
\addplot[const plot, kmred, line width=5pt] coordinates {(0,1) (0.075,0.985) (0.15,0.97) (0.23,0.956) (0.30,0.941) (0.38,0.926) (0.45,0.912) (0.53,0.897) (0.60,0.868) (0.68,0.838) (0.75,0.809) (0.83,0.779) (0.90,0.75) (0.98,0.72) (1.05,0.691) (1.13,0.65) (1.20,0.618) (1.28,0.588) (1.35,0.559) (1.43,0.515) (1.50,0.485) (1.58,0.441) (1.65,0.412) (2.03,0.399) (2.18,0.383) (2.93,0.345) (3.08,0.311) (3.38,0.277) (7.07,0.145) (7.52,0) (7.53,0)};
\addplot[const plot, kmblue, line width=5pt] coordinates {(0,1) (0.10,0.988) (0.20,0.977) (0.30,0.965) (0.45,0.953) (0.60,0.941) (0.80,0.929) (0.95,0.917) (1.10,0.905) (1.30,0.893) (1.55,0.88) (1.75,0.867) (2.10,0.853) (2.35,0.838) (2.90,0.822) (3.30,0.804) (13.0,0.603) (13.3,0.402) (14.2,0.201) (15.1,0.201)};
\addplot[only marks, mark=|, mark size=5pt, kmred, mark options={line width=1.6pt}] coordinates {(0.15,0.97) (0.5,0.912) (0.9,0.75) (1.0,0.72) (1.2,0.618) (1.4,0.559) (1.75,0.412) (1.9,0.412) (2.1,0.399) (2.3,0.383) (2.5,0.383) (2.7,0.383) (2.85,0.383) (3.2,0.311) (3.5,0.277) (3.8,0.277) (5.3,0.277)};
\addplot[only marks, mark=|, mark size=5pt, kmblue, mark options={line width=1.6pt}] coordinates {(0.15,0.988) (0.35,0.965) (0.5,0.953) (0.7,0.941) (0.9,0.929) (1.0,0.917) (1.2,0.905) (1.4,0.893) (1.6,0.88) (1.9,0.867) (2.2,0.853) (2.5,0.838) (2.7,0.838) (3.1,0.822) (3.6,0.804) (3.85,0.804) (4.15,0.804) (4.4,0.804) (4.6,0.804) (5.2,0.804) (6.4,0.804) (7.45,0.804) (15.1,0.201)};
\node[font=\fontsize{16}{18}\selectfont, anchor=west, inner sep=0pt] at (axis cs:0.32,0.20) {p=5.647e−10};
\end{axis}
\node[font=\fontsize{17}{19}\selectfont, anchor=west, inner sep=0pt] at (1012pt,-986pt) {Risk};
\fill[bandred] (1050pt,-977pt) rectangle (1076pt,-996pt);
\draw[kmred, line width=4pt] (1050pt,-987pt) -- (1076pt,-987pt);
\draw[kmred, line width=1.5pt] (1063pt,-981pt) -- (1063pt,-993pt);
\node[font=\fontsize{17}{19}\selectfont, anchor=west, inner sep=0pt] at (1081pt,-986pt) {High risk};
\fill[bandblue] (1158pt,-976pt) rectangle (1182pt,-997pt);
\draw[kmblue, line width=4pt] (1158pt,-987pt) -- (1182pt,-987pt);
\draw[kmblue, line width=1.5pt] (1170pt,-981pt) -- (1170pt,-993pt);
\node[font=\fontsize{17}{19}\selectfont, anchor=west, inner sep=0pt] at (1185pt,-986pt) {Low risk};

%% ---------- F: risk table ----------
\begin{axis}[scale only axis, at={(917pt,-1385pt)}, anchor=north west, width=411pt, height=38pt,
  xmin=-0.718, xmax=15.68, ymin=0.41, ymax=2.65,
  axis x line*=bottom, axis y line*=left, axis line style={line width=1.6pt, black},
  tick align=outside, major tick length=5pt, tick style={line width=1.5pt, black},
  xtick={0,1,...,15}, ytick={1,2},
  yticklabels={\textcolor{kmblue}{Low risk},\textcolor{kmred}{High risk}},
  xticklabel style={font=\fontsize{18}{20}\selectfont},
  yticklabel style={font=\fontsize{19.5}{21}\selectfont, inner sep=1pt},
  xlabel={Time(years)}, ylabel={Risk},
  xlabel style={at={(axis description cs:0.513,0)}, anchor=center, yshift=-37pt, font=\fontsize{20}{22}\selectfont},
  ylabel style={at={(axis description cs:-0.241,0.55)}, anchor=center, font=\fontsize{22}{24}\selectfont},
  clip=false]
\addplot[only marks, mark=*, mark size=0pt, mark options={draw=none, fill=none},
  nodes near coords, point meta=explicit symbolic,
  nodes near coords style={anchor=center, font=\fontsize{19}{21}\selectfont, inner sep=0pt}]
  table[x=t, y expr=2, meta=hi] {\risktab};
\addplot[only marks, mark=*, mark size=0pt, mark options={draw=none, fill=none},
  nodes near coords, point meta=explicit symbolic,
  nodes near coords style={anchor=center, font=\fontsize{19}{21}\selectfont, inner sep=0pt}]
  table[x=t, y expr=1, meta=lo] {\risktab};
\end{axis}
\end{tikzpicture}
\end{document}
